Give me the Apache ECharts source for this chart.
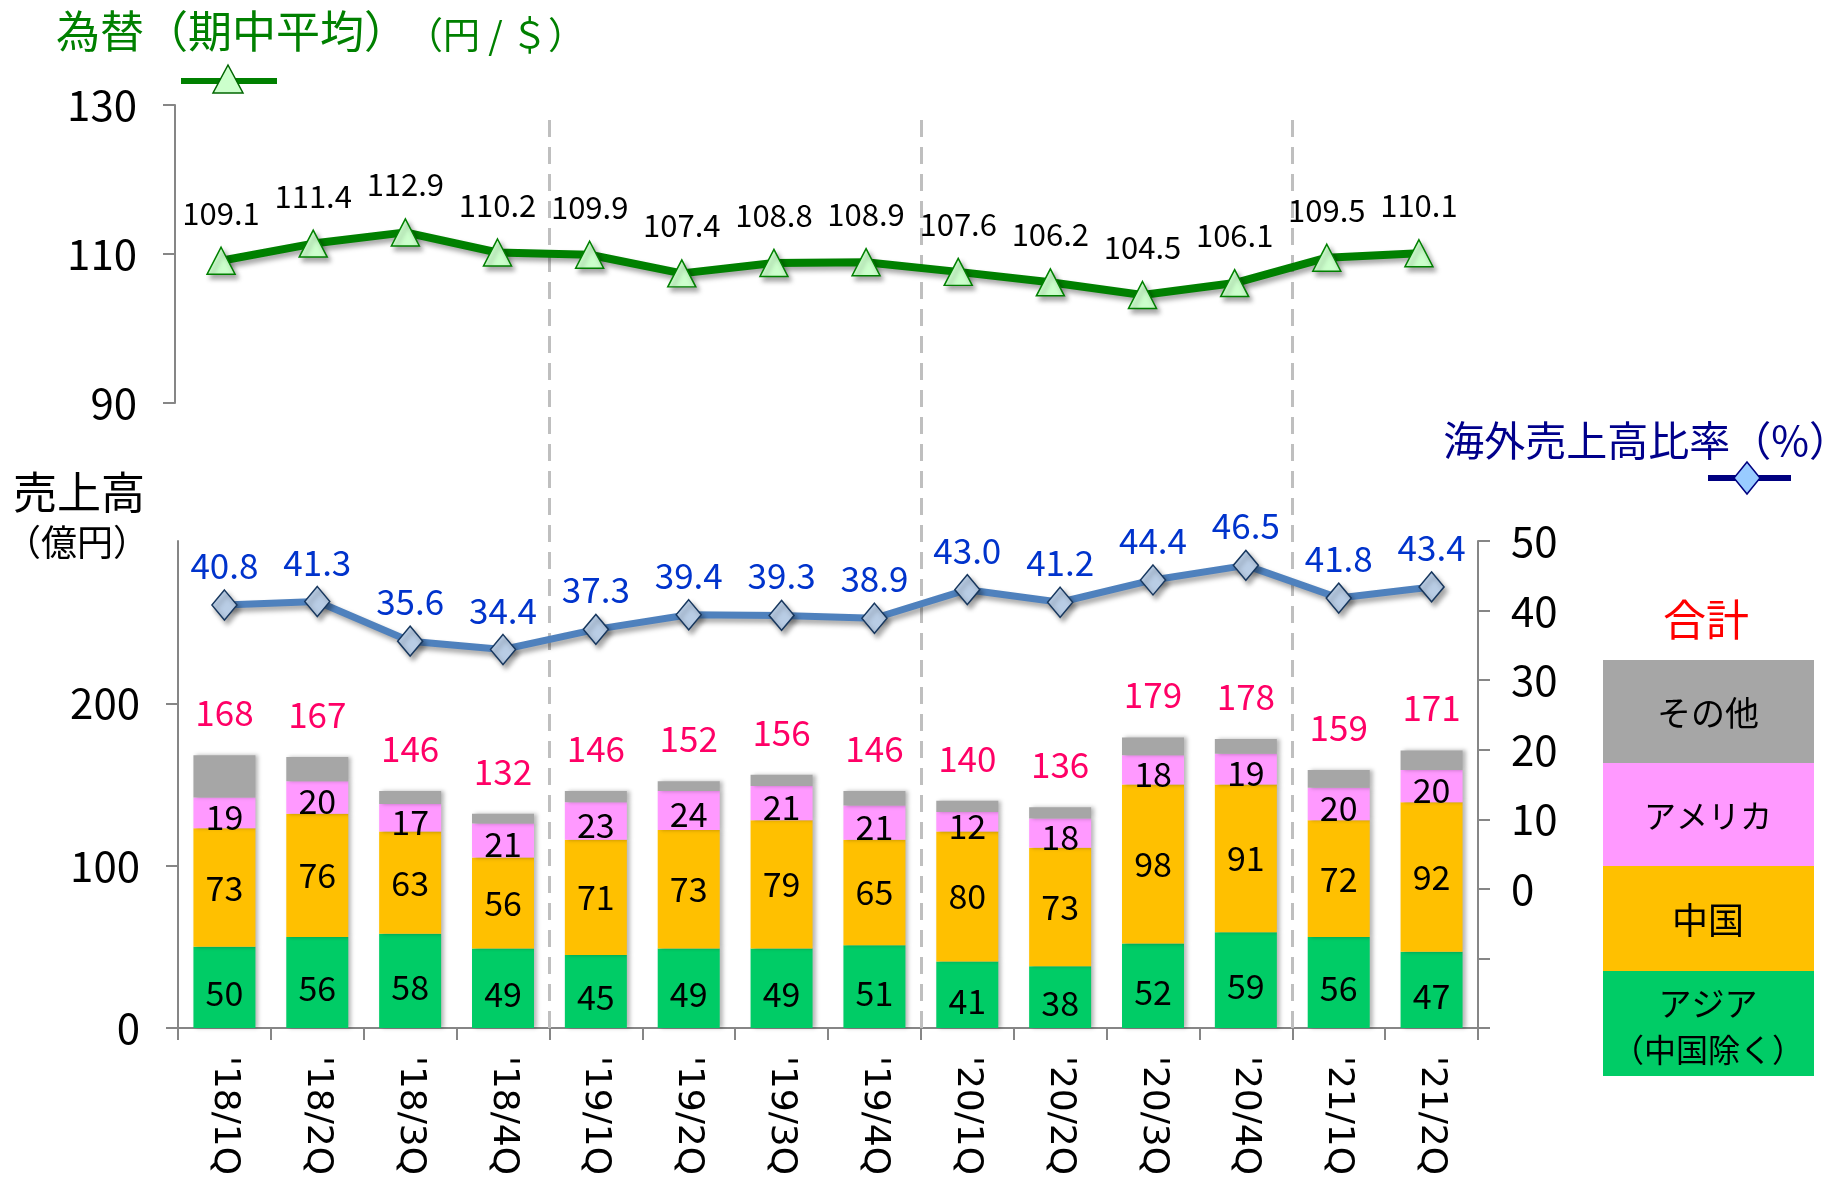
<!DOCTYPE html>
<html><head><meta charset="utf-8">
<script src="https://cdn.jsdelivr.net/npm/echarts@6/dist/echarts.min.js"></script>
<style>html,body{margin:0;padding:0;background:#fff}#c{width:1832px;height:1179px}</style>
</head><body><div id="c"></div>
<script>
const categories = ["'18/1Q","'18/2Q","'18/3Q","'18/4Q","'19/1Q","'19/2Q","'19/3Q","'19/4Q","'20/1Q","'20/2Q","'20/3Q","'20/4Q","'21/1Q","'21/2Q"];
const asia    = [50,56,58,49,45,49,49,51,41,38,52,59,56,47];
const china   = [73,76,63,56,71,73,79,65,80,73,98,91,72,92];
const america = [19,20,17,21,23,24,21,21,12,18,18,19,20,20];
const others  = [26,15,8,6,7,6,7,9,7,7,11,9,11,12];
const totals  = [168,167,146,132,146,152,156,146,140,136,179,178,159,171];
const overseasRatio = [40.8,41.3,35.6,34.4,37.3,39.4,39.3,38.9,43.0,41.2,44.4,46.5,41.8,43.4];
const fxRate = [109.1,111.4,112.9,110.2,109.9,107.4,108.8,108.9,107.6,106.2,104.5,106.1,109.5,110.1];
const fiscalBoundaries = [3.5, 7.5, 11.5];
const salesTicks = [0,100,200];
const ratioTicks = [0,10,20,30,40,50];

const JP = "'Noto Sans CJK JP', 'Noto Sans', sans-serif";
const axisGray = '#868686';
const barShadow = {shadowColor:'rgba(0,0,0,0.28)', shadowBlur:4, shadowOffsetX:3, shadowOffsetY:0};
const inLabel = (dy) => ({show:true, position:'inside', offset:[0,dy], color:'#000', fontSize:34, fontFamily:JP});
const lineShadow = {shadowColor:'rgba(0,0,0,0.35)', shadowBlur:5, shadowOffsetX:3, shadowOffsetY:4};

const chart = echarts.init(document.getElementById('c'), null, {renderer:'canvas'});
const option = {
  backgroundColor:'#fff',
  animation:false,
  grid:[
    {left:175, top:105, width:1290, height:298},
    {left:178, top:541, width:1300, height:487},
    {left:178, top:117, width:1300, height:911}
  ],
  xAxis:[
    {type:'category', gridIndex:0, data:categories, boundaryGap:true,
     axisLine:{show:false}, axisTick:{show:false}, axisLabel:{show:false}},
    {type:'category', gridIndex:1, data:categories, boundaryGap:true,
     axisLine:{show:true, lineStyle:{color:axisGray, width:2}},
     axisTick:{show:true, length:12, lineStyle:{color:axisGray, width:2}},
     axisLabel:{rotate:-90, margin:28, fontSize:36, color:'#000', fontFamily:"'DejaVu Sans', Verdana, sans-serif", interval:0}},
    {type:'value', gridIndex:2, min:-0.5, max:13.5, show:false}
  ],
  yAxis:[
    {type:'value', gridIndex:0, min:90, max:130, interval:20,
     axisLine:{show:true, lineStyle:{color:axisGray, width:2}},
     axisTick:{show:true, length:12, lineStyle:{color:axisGray, width:2}},
     splitLine:{show:false},
     axisLabel:{fontSize:42, color:'#000', margin:38, fontFamily:JP}},
    {type:'value', gridIndex:1, min:0, max:300, interval:100,
     axisLine:{show:true, lineStyle:{color:axisGray, width:2}},
     axisTick:{show:true, length:12, customValues:salesTicks, lineStyle:{color:axisGray, width:2}},
     splitLine:{show:false},
     axisLabel:{fontSize:42, color:'#000', margin:38, fontFamily:JP, customValues:salesTicks}},
    {type:'value', gridIndex:1, position:'right', min:-20, max:50, interval:10,
     axisLine:{show:true, lineStyle:{color:axisGray, width:2}},
     axisTick:{show:true, length:12, lineStyle:{color:axisGray, width:2}},
     splitLine:{show:false},
     axisLabel:{fontSize:42, color:'#000', margin:33, fontFamily:JP, customValues:ratioTicks}},
    {type:'value', gridIndex:2, min:0, max:1, show:false}
  ],
  series:[
    {name:'boundaries', type:'line', xAxisIndex:2, yAxisIndex:3, data:[[0,-5]], showSymbol:false,
     lineStyle:{opacity:0}, silent:true,
     markLine:{silent:true, symbol:['none','none'], label:{show:false},
       lineStyle:{color:'#BFBFBF', width:3, type:[17,10]},
       data:fiscalBoundaries.map(v=>({xAxis:v}))}},
    {name:'アジア（中国除く）', type:'bar', stack:'s', xAxisIndex:1, yAxisIndex:1, barWidth:62,
     data:asia, itemStyle:Object.assign({color:'#00CC66'}, barShadow), label:inLabel(6)},
    {name:'中国', type:'bar', stack:'s', xAxisIndex:1, yAxisIndex:1, barWidth:62,
     data:china, itemStyle:Object.assign({color:'#FFC000'}, barShadow), label:inLabel(0)},
    {name:'アメリカ', type:'bar', stack:'s', xAxisIndex:1, yAxisIndex:1, barWidth:62,
     data:america, itemStyle:Object.assign({color:'#FF99FF'}, barShadow), label:inLabel(4)},
    {name:'その他', type:'bar', stack:'s', xAxisIndex:1, yAxisIndex:1, barWidth:62,
     data:others, itemStyle:Object.assign({color:'#A6A6A6'}, barShadow),
     label:{show:true, position:'top', distance:25, color:'#FF0066', fontSize:35, fontFamily:JP,
            formatter:p=>String(totals[p.dataIndex])}},
    {name:'海外売上高比率', type:'line', xAxisIndex:1, yAxisIndex:2, data:overseasRatio, z:5,
     symbol:'diamond', symbolSize:[25,30],
     lineStyle:Object.assign({color:'#4F81BD', width:7}, lineShadow),
     itemStyle:Object.assign({color:'#B9CDE5', borderColor:'#17375E', borderWidth:1.5}, lineShadow),
     label:{show:true, position:'top', distance:6, color:'#0033CC', fontSize:35, fontFamily:JP,
            formatter:p=>p.value.toFixed(1)}},
    {name:'為替', type:'line', xAxisIndex:0, yAxisIndex:0, data:fxRate, z:5,
     symbol:'triangle', symbolSize:[28,27],
     lineStyle:Object.assign({color:'#008000', width:8}, lineShadow),
     itemStyle:Object.assign({color:'#CCFFCC', borderColor:'#008000', borderWidth:1.5}, lineShadow),
     label:{show:true, position:'top', distance:18, color:'#000', fontSize:31, fontFamily:JP,
            formatter:p=>p.value.toFixed(1)}}
  ],
  graphic:[
    {type:'text', left:56, top:9, style:{text:'為替（期中平均）', fill:'#008000', font:"44px "+JP}},
    {type:'text', left:406, top:16, style:{text:'（円 / ＄）', fill:'#008000', font:"37px "+JP}},
    {type:'line', shape:{x1:181,y1:81,x2:277,y2:81}, style:{stroke:'#008000', lineWidth:6}},
    {type:'polygon', shape:{points:[[228,65],[243,93],[213,93]]}, style:{fill:'#CCFFCC', stroke:'#006600', lineWidth:1.5}},
    {type:'text', left:13, top:470, style:{text:'売上高', fill:'#000', font:"44px "+JP}},
    {type:'text', x:77, y:542, style:{text:'（億円）', fill:'#000', font:"36px "+JP, align:'center', verticalAlign:'middle'}},
    {type:'text', x:1850, y:440, style:{text:'海外売上高比率（%）', fill:'#00008B', font:"41px "+JP, align:'right', verticalAlign:'middle'}},
    {type:'line', shape:{x1:1708,y1:478,x2:1791,y2:478}, style:{stroke:'#000080', lineWidth:6}},
    {type:'polygon', shape:{points:[[1747,462],[1760,478],[1747,494],[1734,478]]}, style:{fill:'#99CCFF', stroke:'#000080', lineWidth:1.5}},
    {type:'text', x:1706, y:620, style:{text:'合計', fill:'#FF0000', font:"43px "+JP, align:'center', verticalAlign:'middle'}},
    {type:'rect', shape:{x:1603,y:660,width:211,height:103}, style:{fill:'#A6A6A6'}},
    {type:'rect', shape:{x:1603,y:763,width:211,height:103}, style:{fill:'#FF99FF'}},
    {type:'rect', shape:{x:1603,y:866,width:211,height:105}, style:{fill:'#FFC000'}},
    {type:'rect', shape:{x:1603,y:971,width:211,height:105}, style:{fill:'#00CC66'}},
    {type:'text', x:1708, y:713, style:{text:'その他', fill:'#000', font:"34px "+JP, align:'center', verticalAlign:'middle'}},
    {type:'text', x:1708, y:816, style:{text:'アメリカ', fill:'#000', font:"32px "+JP, align:'center', verticalAlign:'middle'}},
    {type:'text', x:1708, y:920, style:{text:'中国', fill:'#000', font:"36px "+JP, align:'center', verticalAlign:'middle'}},
    {type:'text', x:1708, y:1003, style:{text:'アジア', fill:'#000', font:"33px "+JP, align:'center', verticalAlign:'middle'}},
    {type:'text', x:1708, y:1050, style:{text:'（中国除く）', fill:'#000', font:"32px "+JP, align:'center', verticalAlign:'middle'}}
  ]
};
chart.setOption(option);
</script>
</body></html>
